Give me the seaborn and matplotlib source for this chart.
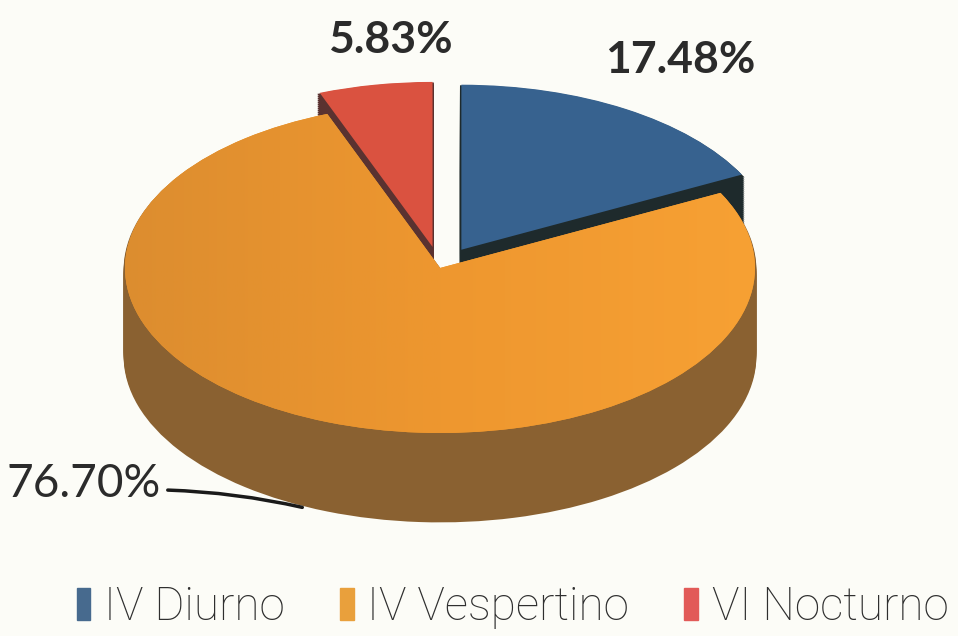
import matplotlib
matplotlib.use("Agg")
import matplotlib.pyplot as plt
import numpy as np
import seaborn as sns
from matplotlib.colors import LinearSegmentedColormap

sns.set_theme(style="white")
plt.rcParams['font.family'] = ['Lato', 'DejaVu Sans']

# datos
turnos = ["IV Diurno", "IV Vespertino", "VI Nocturno"]
porcentajes = [17.48, 76.70, 5.83]
etiquetas = ["17.48%", "76.70%", "5.83%"]

color_top = ["#37628f", "#f0992f", "#da5240"]
color_side = ["#1e2a2c", "#8a6131", "#5a3230"]
color_legend = ["#476a8e", "#e9a03c", "#e25a58"]
explode = [0.13, 0.0, 0.13]

W, H = 958, 636
CX, CY = 440, 268       # centro de la cara superior (pixeles)
RX, RY = 315, 165       # semiejes de la elipse (pixeles)
PROF = 88               # grosor del pastel (pixeles)


def px(x):
    return (x - CX) / RX


def py(y):
    # pixel (desde arriba) -> coordenada de datos
    return (CY - y) / RY


fig = plt.figure(figsize=(W / 100, H / 100), dpi=100, facecolor="#fcfcf7")
ax = fig.add_axes([0, 0, 1, 1])
ax.set_facecolor("#fcfcf7")

# paredes laterales (capas apiladas)
for d in range(PROF, 0, -2):
    ws, _ = ax.pie(porcentajes, radius=1, center=(0, py(CY + d)), startangle=90,
                   counterclock=False, explode=explode, colors=color_side,
                   wedgeprops=dict(linewidth=2), frame=True)
    for w in ws:
        w.set_edgecolor(w.get_facecolor())

# cara superior
tops, _ = ax.pie(porcentajes, radius=1, center=(0, 0), startangle=90,
                 counterclock=False, explode=explode, colors=color_top,
                 wedgeprops=dict(linewidth=0), frame=True)

# degradado suave en la cara naranja
grad = LinearSegmentedColormap.from_list("naranja", ["#dc8d2f", "#ee972f", "#f7a134"])
img = ax.imshow(np.linspace(0, 1, 256).reshape(1, -1), cmap=grad, aspect="auto",
                extent=(-1.02, 1.02, -1.02, 1.02), zorder=tops[1].get_zorder() + 0.1)
img.set_clip_path(tops[1])

ax.set_aspect("auto")
ax.set_xlim(px(0), px(W))
ax.set_ylim(py(H), py(0))
ax.axis("off")

# etiquetas
ax.text(px(680), py(60), etiquetas[0], ha="center", va="center", fontsize=32,
        fontweight="bold", color="#2b2b2b")
ax.text(px(390), py(40), etiquetas[2], ha="center", va="center", fontsize=32,
        fontweight="bold", color="#2b2b2b")
ax.text(px(84), py(484), etiquetas[1], ha="center", va="center", fontsize=33,
        color="#2b2b2b")
ax.annotate("", xy=(px(305), py(508)), xytext=(px(165), py(490)),
            arrowprops=dict(arrowstyle="-", color="#1a1a1a", lw=2.5,
                            connectionstyle="arc3,rad=-0.05"))

# leyenda
handles = [plt.Rectangle((0, 0), 1, 1, color=c) for c in color_legend]
leg = fig.legend(handles, turnos, loc="center", bbox_to_anchor=(0.535, 1 - 607 / H),
                 ncol=3, frameon=False, handlelength=0.3,
                 handleheight=0.7, handletextpad=0.3, columnspacing=1.2,
                 prop=dict(family=['Roboto', 'DejaVu Sans'], weight='light', size=33))
for t in leg.get_texts():
    t.set_color("#2f2f2f")

fig.savefig("out.png", dpi=100, facecolor=fig.get_facecolor())
